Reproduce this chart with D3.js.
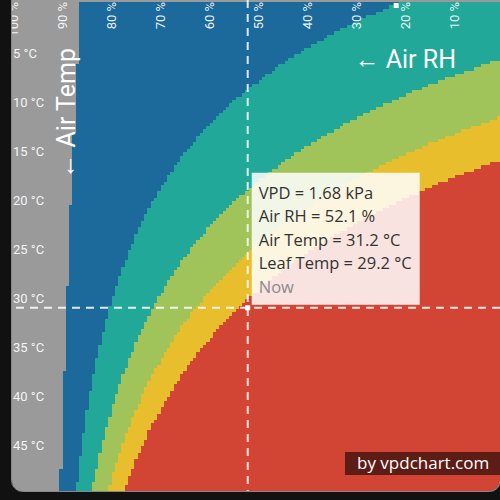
<!DOCTYPE html>
<html><head><meta charset="utf-8">
<script src="https://cdn.jsdelivr.net/npm/d3@7"></script>
<style>html,body{margin:0;padding:0;background:#111;} svg{display:block;}</style>
</head><body>
<svg id="chart" width="500" height="500"></svg>
<script>
// ---- data ----
const rhTicks = [100, 90, 80, 70, 60, 50, 40, 30, 20, 10];
const tempTicks = [5, 10, 15, 20, 25, 30, 35, 40, 45];
const vpdZoneLimits = [0, 0.4, 0.8, 1.2, 1.6];            // kPa
const zoneColors = ["#9a9a9a", "#1c6a9b", "#22a898", "#a0c45a", "#e8be2d", "#d24534"];
const leafOffset = 2;                                       // leaf temp = air temp - 2 °C
const rhDomain = [100, 0];
const tempDomain = [0, 50];
const rhStep = 2 / 3;
const tempStep = 1 / 3;
const nowRH = 52.1, nowTemp = 31.2;
const tooltipLines = ["VPD = 1.68 kPa", "Air RH = 52.1 %", "Air Temp = 31.2 °C", "Leaf Temp = 29.2 °C", "Now"];
const topMarker = {rh: 21.8, temp: 0.2};

// ---- scales ----
const x = d3.scaleLinear().domain(rhDomain).range([13, 503]);
const y = d3.scaleLinear().domain(tempDomain).range([2, 492]);
const color = d3.scaleThreshold().domain(vpdZoneLimits).range(zoneColors);
const svp = t => 0.6108 * Math.exp(17.27 * t / (t + 237.3));
const vpd = (rh, t) => svp(t - leafOffset) - rh / 100 * svp(t);

const svg = d3.select("#chart");
svg.append("rect").attr("width", 500).attr("height", 500).attr("fill", "#111");

svg.append("defs").append("clipPath").attr("id", "card")
  .append("rect").attr("x", 12).attr("y", -30).attr("width", 488).attr("height", 521).attr("rx", 11);

const plot = svg.append("g").attr("clip-path", "url(#card)");
plot.append("rect").attr("x", 0).attr("y", -30).attr("width", 500).attr("height", 530).attr("fill", zoneColors[0]);

const cells = [];
const rhs = d3.range(0, 100 - 1e-9, rhStep);
const temps = d3.range(0, 50 - 1e-9, tempStep);
temps.forEach(t => rhs.forEach(rh => cells.push({rh, t})));

plot.append("g").attr("shape-rendering", "crispEdges")
  .selectAll("rect").data(cells).join("rect")
  .attr("x", d => x(d.rh + rhStep))
  .attr("y", d => y(d.t))
  .attr("width", d => x(d.rh) - x(d.rh + rhStep) + 0.5)
  .attr("height", d => y(d.t + tempStep) - y(d.t) + 0.5)
  .attr("fill", d => color(vpd(d.rh + rhStep / 2, d.t + tempStep / 2)));

// x axis (RH) labels rotated at top
const xAxis = plot.append("g")
  .call(d3.axisTop(x).tickValues(rhTicks).tickFormat(d => d + " %").tickSize(0));
xAxis.select(".domain").remove();
xAxis.selectAll("text")
  .attr("transform", "rotate(-90)")
  .attr("x", -2).attr("y", 0).attr("dy", "0.35em")
  .attr("text-anchor", "end")
  .attr("fill", "#fff").attr("fill-opacity", 0.92)
  .style("font-family", "Roboto").style("font-size", "13px");

// y axis (temp) labels
const yAxis = plot.append("g").attr("transform", "translate(13,0)")
  .call(d3.axisRight(y).tickValues(tempTicks).tickFormat(d => d + " °C").tickSize(0));
yAxis.select(".domain").remove();
yAxis.selectAll("text")
  .attr("x", 0).attr("y", 2).attr("dy", "0.35em")
  .attr("text-anchor", "start")
  .attr("fill", "#fff").attr("fill-opacity", 0.92)
  .style("font-family", "Roboto").style("font-size", "13px");

// axis titles
plot.append("text")
  .attr("transform", "translate(75,0) rotate(-90)")
  .attr("x", -48).attr("y", 0)
  .attr("text-anchor", "end")
  .attr("fill", "#fff")
  .style("font-family", "Roboto").style("font-size", "25px")
  .text("← Air Temp");
plot.append("text")
  .attr("x", 456).attr("y", 68)
  .attr("text-anchor", "end")
  .attr("fill", "#fff")
  .style("font-family", "Roboto").style("font-size", "25px")
  .text("← Air RH");

// crosshair
const px = x(nowRH), py = y(nowTemp);
plot.append("line").attr("x1", px).attr("x2", px).attr("y1", 0).attr("y2", 491)
  .attr("stroke", "#fff").attr("stroke-width", 2).attr("stroke-dasharray", "8,6").attr("stroke-opacity", 0.85);
plot.append("line").attr("x1", 16).attr("x2", 500).attr("y1", py).attr("y2", py)
  .attr("stroke", "#fff").attr("stroke-width", 2).attr("stroke-dasharray", "8,6").attr("stroke-opacity", 0.85);
plot.append("rect").attr("x", px - 2.5).attr("y", py - 2.5).attr("width", 5).attr("height", 5).attr("fill", "#fff");
plot.append("rect").attr("x", x(topMarker.rh) - 2.5).attr("y", y(topMarker.temp) - 1)
  .attr("width", 5).attr("height", 5).attr("fill", "#fff");

// tooltip
const tip = plot.append("g").attr("transform", `translate(${px + 4},${py - 135})`);
tip.append("rect").attr("width", 168).attr("height", 132).attr("fill", "#fff").attr("fill-opacity", 0.85);
tip.selectAll("text").data(tooltipLines).join("text")
  .attr("x", 7).attr("y", (d, i) => 26 + i * 23.5)
  .attr("fill", (d, i) => i === 4 ? "#8a8a8a" : "#333")
  .style("font-family", "'Open Sans'").style("font-size", "16.5px")
  .text(d => d);

// watermark
plot.append("rect").attr("x", 345).attr("y", 452).attr("width", 160).attr("height", 23)
  .attr("fill", "#000").attr("fill-opacity", 0.57);
plot.append("text").attr("x", 357).attr("y", 469)
  .attr("fill", "#fff")
  .style("font-family", "'Open Sans'").style("font-size", "17px")
  .text("by vpdchart.com");

// card border
svg.append("rect").attr("x", 11.5).attr("y", -30).attr("width", 489).attr("height", 521.5).attr("rx", 11)
  .attr("fill", "none").attr("stroke", "#bbb").attr("stroke-opacity", 0.7).attr("stroke-width", 1);
</script>
</body></html>
